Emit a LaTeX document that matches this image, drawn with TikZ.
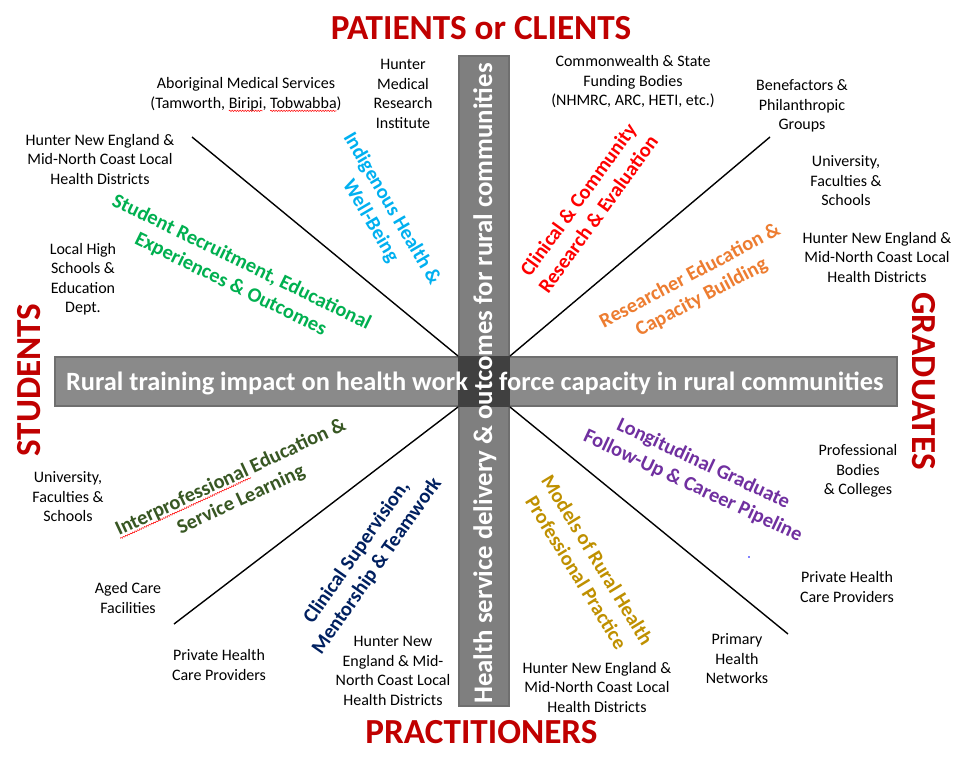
\documentclass[tikz,border=0pt]{standalone}
\usepackage{fontspec}
\setmainfont{Carlito}
\usetikzlibrary{decorations.pathmorphing}
\definecolor{titlered}{HTML}{C00000}
\definecolor{cblue}{HTML}{00B0F0}
\definecolor{cgreen}{HTML}{00B050}
\definecolor{cred}{HTML}{FF0000}
\definecolor{corange}{HTML}{ED7D31}
\definecolor{cdkgreen}{HTML}{385723}
\definecolor{cnavy}{HTML}{002060}
\definecolor{cpurple}{HTML}{7030A0}
\definecolor{cgold}{HTML}{BF9000}
\definecolor{hbarfill}{HTML}{8A8A8A}
\definecolor{vbarfill}{HTML}{7F7F7F}
\definecolor{barborder}{HTML}{6F6F6F}
\definecolor{centerfill}{HTML}{404040}
\newdimen\errwd
\newsavebox\errbox
\newcommand\spellerr[1]{\sbox\errbox{#1}\errwd=\wd\errbox\relax\rlap{\tikz[baseline=0pt]{\useasboundingbox (0pt,0pt); \draw[red, line width=0.5pt, decorate, decoration={snake,amplitude=0.7pt,segment length=2.6pt}] (0pt,-2.8pt) -- (\errwd,-2.8pt);}}\usebox\errbox}
\begin{document}
\begin{tikzpicture}[x=1pt,y=-1pt,
  small/.style={font=\fontsize{16}{19.5}\selectfont, align=center, inner sep=0pt},
  theme/.style={font=\bfseries\fontsize{20.4}{24.6}\selectfont, align=center, inner sep=0pt},
  big/.style={font=\bfseries\fontsize{35.2}{40}\selectfont, text=titlered, inner sep=0pt},
  bartext/.style={font=\bfseries\fontsize{26.4}{30}\selectfont, text=white, inner sep=0pt},
  barbox/.style={draw=barborder, line width=2pt, inner sep=0pt, outer sep=0pt},
  spoke/.style={line width=1.4pt, draw=black}]
\useasboundingbox (0,0) rectangle (968,761);
\fill[white] (0,0) rectangle (968,761);

% bars
\node[barbox, fill=vbarfill, minimum width=50pt, minimum height=650pt] (vbar) at (484,381) {};
\node[barbox, fill=hbarfill, minimum width=842pt, minimum height=49pt] (hbar) at (476,381.5) {};
\node[fill=centerfill, inner sep=0pt, minimum width=52pt, minimum height=51pt] (hub) at (484,381.5) {};

% corners of the hub and spoke ends
\coordinate (tl) at (458,356);
\coordinate (tr) at (510,356);
\coordinate (bl) at (458,407);
\coordinate (br) at (510,407);
\coordinate (tlo) at (192,137);
\coordinate (tro) at (770,137);
\coordinate (blo) at (174,624);
\coordinate (bro) at (788,634);
\draw[spoke] (tlo) -- (tl);
\draw[spoke] (tro) -- (tr);
\draw[spoke] (blo) -- (bl);
\draw[spoke] (bro) -- (br);

% bar texts
\node[bartext, anchor=base east] (hleft) at (468,390) {Rural training impact on health work};
\node[bartext, anchor=base west] (hright) at (499,390) {force capacity in rural communities};
\node[bartext, font=\bfseries\fontsize{26.8}{30}\selectfont, rotate=90, anchor=base] (vtext) at (492,383.5) {Health service delivery \& outcomes for rural communities};

% big labels
\node[big] (patients) at (481,28.5) {PATIENTS or CLIENTS};
\node[big] (practitioners) at (481.5,732.5) {PRACTITIONERS};
\node[big, rotate=90] (students) at (29,380) {STUDENTS};
\node[big, rotate=-90] (graduates) at (924,381) {GRADUATES};

% theme labels
\node[theme, text=cblue, rotate=-59.5] (indig) at (381,215) {Indigenous Health \&\\Well-Being};
\node[theme, text=cgreen, rotate=-26] (student) at (236,273.5) {Student Recruitment, Educational\\Experiences \& Outcomes};
\node[theme, text=cred, rotate=54] (clinres) at (588,207) {Clinical \& Community\\Research \& Evaluation};
\node[theme, text=corange, rotate=28] (resed) at (696,287) {Researcher Education \&\\Capacity Building};
\node[theme, text=cdkgreen, rotate=25] (interprof) at (236,489) {\spellerr{Interprofessional} Education \&\\Service Learning};
\node[theme, text=cnavy, rotate=55] (clinsup) at (367,559) {Clinical Supervision,\\Mentorship \& Teamwork};
\node[theme, text=cpurple, rotate=-25] (longit) at (698,475) {Longitudinal Graduate\\Follow-Up \& Career Pipeline};
\node[theme, text=cgold, rotate=-58.5] (models) at (587,566) {Models of Rural Health\\Professional Practice};

% stakeholder labels
\node[small] (abor) at (246,94) {Aboriginal Medical Services\\(Tamworth, \spellerr{Biripi}, \spellerr{Tobwabba})};
\node[small] (hmri) at (403,94) {Hunter\\Medical\\Research\\Institute};
\node[small] (hnetl) at (100,159) {Hunter New England \&\\Mid-North Coast Local\\Health Districts};
\node[small] (schools) at (83,279) {Local High\\Schools \&\\Education\\Dept.};
\node[small] (commw) at (633,82) {Commonwealth \& State\\Funding Bodies\\(NHMRC, ARC, HETI, etc.)};
\node[small] (benef) at (802,106) {Benefactors \&\\Philanthropic\\Groups};
\node[small] (unitr) at (846,181) {University,\\Faculties \&\\Schools};
\node[small] (hnetr) at (877,257) {Hunter New England \&\\Mid-North Coast Local\\Health Districts};
\node[small] (unil) at (68,497) {University,\\Faculties \&\\Schools};
\node[small] (aged) at (128,598) {Aged Care\\Facilities};
\node[small] (privl) at (219,665) {Private Health\\Care Providers};
\node[small] (hnebl) at (393,671) {Hunter New\\England \& Mid-\\North Coast Local\\Health Districts};
\node[small] (hnebr) at (597,687) {Hunter New England \&\\Mid-North Coast Local\\Health Districts};
\node[small] (phn) at (737,659) {Primary\\Health\\Networks};
\node[small] (privr) at (847,587) {Private Health\\Care Providers};
\node[small] (prof) at (858,471) {Professional\\Bodies\\\& Colleges};

\fill[blue] (749,557) circle (0.8);
\end{tikzpicture}
\end{document}
